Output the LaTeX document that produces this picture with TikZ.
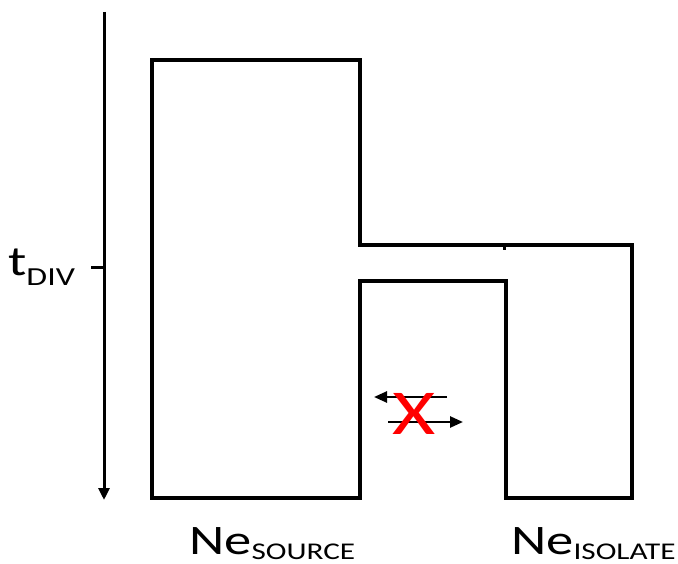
\documentclass[tikz,border=0pt]{standalone}
\usepackage{fontspec}
\setmainfont{Carlito}
\usetikzlibrary{arrows.meta}
\newcommand{\wide}[1]{\scalebox{1.3}[1]{#1}}
\begin{document}
\begin{tikzpicture}[x=1pt,y=-1pt,
  wall/.style={line width=4pt, line join=miter},
  lab/.style={font=\fontsize{42}{46}\selectfont, inner sep=0pt, anchor=base west},
  mig/.style={line width=2.5pt, -{Triangle[length=13pt,width=11pt]}}]
\useasboundingbox (0,0) rectangle (678,564);
% time axis
\coordinate (atop) at (104,12);
\coordinate (abot) at (104,500);
\draw[line width=3pt, -{Triangle[length=12pt,width=11pt]}] (atop) -- (abot);
\coordinate (tick) at (104,268);
\coordinate (tickl) at (91,268);
\draw[line width=3pt] (tickl) -- (tick);
\node[lab, font=\fontsize{42}{44}\selectfont] (tdiv) at (8,276) {\wide{t\raisebox{-10pt}{\fontsize{26}{28}\selectfont DIV}}};
% populations outline
\draw[wall] (152,60) -- (360,60) -- (360,245) -- (632,245) -- (632,498) -- (506,498)
  -- (506,281) -- (360,281) -- (360,498) -- (152,498) -- cycle;
\draw[line width=3pt] (504,245) -- (504,250);
% migration arrows
\coordinate (m1a) at (447,397);
\coordinate (m1b) at (374,397);
\coordinate (m2a) at (388,422);
\coordinate (m2b) at (463,422);
\draw[mig] (m1a) -- (m1b);
\draw[mig] (m2a) -- (m2b);
\node[text=red, font=\fontsize{64}{64}\selectfont, inner sep=0pt] (x) at (414,414) {\wide{X}};
% labels
\node[lab] (src) at (189,554) {\wide{Ne\raisebox{-5pt}{\fontsize{24}{26}\selectfont SOURCE}}};
\node[lab] (iso) at (511,554) {\wide{Ne\raisebox{-5pt}{\fontsize{24}{26}\selectfont ISOLATE}}};
\end{tikzpicture}
\end{document}
